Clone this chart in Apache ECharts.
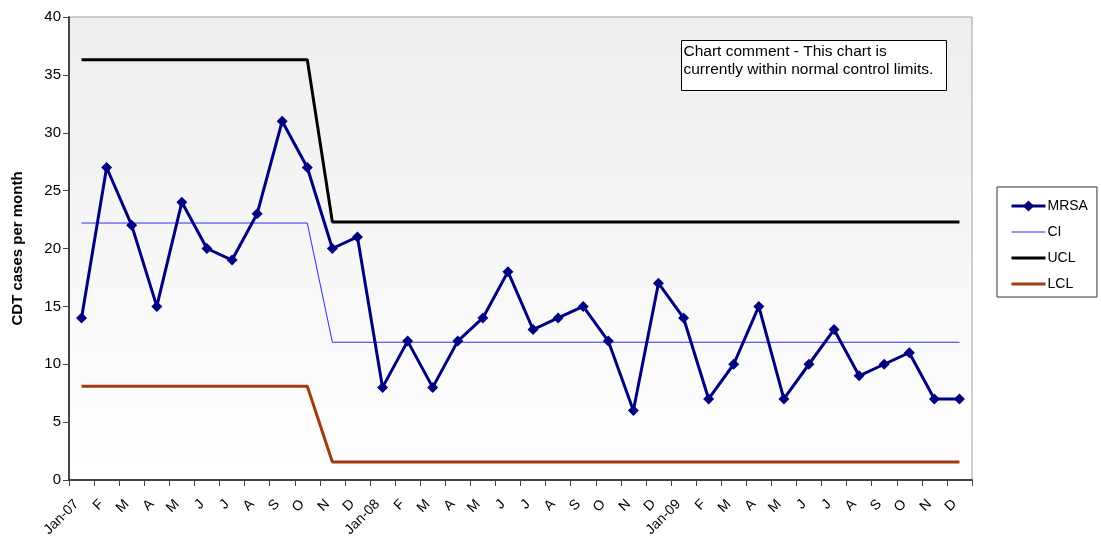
<!DOCTYPE html>
<html><head><meta charset="utf-8">
<script src="https://cdn.jsdelivr.net/npm/echarts@6/dist/echarts.min.js"></script>
<style>html,body{margin:0;padding:0;background:#fff}#c{width:1101px;height:537px}</style>
</head><body><div id="c"></div>
<script>
const categories = ['Jan-07','F','M','A','M','J','J','A','S','O','N','D',
  'Jan-08','F','M','A','M','J','J','A','S','O','N','D',
  'Jan-09','F','M','A','M','J','J','A','S','O','N','D'];
const mrsa = [14,27,22,15,24,20,19,23,31,27,20,21,
  8,12,8,12,14,18,13,14,15,12,6,17,
  14,7,10,15,7,10,13,9,10,11,7,7];
const ci  = [22.2,22.2,22.2,22.2,22.2,22.2,22.2,22.2,22.2,22.2,
  11.9,11.9,11.9,11.9,11.9,11.9,11.9,11.9,11.9,11.9,11.9,11.9,11.9,11.9,11.9,11.9,11.9,11.9,11.9,11.9,11.9,11.9,11.9,11.9,11.9,11.9];
const ucl = [36.3,36.3,36.3,36.3,36.3,36.3,36.3,36.3,36.3,36.3,
  22.3,22.3,22.3,22.3,22.3,22.3,22.3,22.3,22.3,22.3,22.3,22.3,22.3,22.3,22.3,22.3,22.3,22.3,22.3,22.3,22.3,22.3,22.3,22.3,22.3,22.3];
const lcl = [8.1,8.1,8.1,8.1,8.1,8.1,8.1,8.1,8.1,8.1,
  1.55,1.55,1.55,1.55,1.55,1.55,1.55,1.55,1.55,1.55,1.55,1.55,1.55,1.55,1.55,1.55,1.55,1.55,1.55,1.55,1.55,1.55,1.55,1.55,1.55,1.55];
const yTicks = [0,5,10,15,20,25,30,35,40];
const comment = 'Chart comment - This chart is\ncurrently within normal control limits.';

const font = 'Liberation Sans, Arial, sans-serif';
const clear = 'rgba(0,0,0,0)';
const chart = echarts.init(document.getElementById('c'), null, {renderer:'canvas'});
chart.setOption({
  animation: false,
  textStyle: {fontFamily: font},
  grid: {left: 69, top: 17, right: 129, bottom: 57, show: true,
    outerBoundsMode: 'none', containLabel: false,
    borderColor: '#a0a0a0', borderWidth: 1,
    backgroundColor: new echarts.graphic.LinearGradient(0,0,0,1,[
      {offset:0,color:'#eeeeee'},{offset:1,color:'#ffffff'}])},
  legend: {
    orient: 'vertical', left: 997, top: 187,
    padding: [12, 9, 6, 13], itemGap: 12,
    borderColor: '#333', borderWidth: 1, backgroundColor: '#fff',
    itemWidth: 34, itemHeight: 14,
    textStyle: {fontSize: 14, color: '#000', fontFamily: font, padding:[0,10,0,-3]},
    data: [
      {name: 'MRSA', lineStyle: {width: 3}},
      {name: 'CI', lineStyle: {width: 1}},
      {name: 'UCL', lineStyle: {width: 3}},
      {name: 'LCL', lineStyle: {width: 3}}
    ]
  },
  xAxis: {
    type: 'category', data: categories, boundaryGap: true,
    axisLine: {lineStyle: {color: '#444', width: 2}},
    axisTick: {show: true, interval: 0, length: 6, lineStyle: {color: '#444'}},
    axisLabel: {interval: 0, rotate: 45, fontSize: 14, color: '#000', fontFamily: font,
      margin: 17, padding: [0, 7, 0, 0]},
    splitLine: {show: false}
  },
  yAxis: {
    type: 'value', min: 0, max: 40, interval: 5,
    name: 'CDT cases per month', nameLocation: 'middle', nameGap: 44,
    nameTextStyle: {fontSize: 15, fontWeight: 'bold', color: '#000', fontFamily: font},
    axisLine: {show: true, lineStyle: {color: '#444', width: 2}},
    axisTick: {show: true, length: 6, lineStyle: {color: '#444'}},
    axisLabel: {fontSize: 15, color: '#000', fontFamily: font, margin: 8,
      formatter: v => yTicks.includes(v) ? String(v) : ''},
    splitLine: {show: false}
  },
  series: [
    {name: 'UCL', type: 'line', data: ucl, symbol: 'none', z: 2,
      lineStyle: {color: '#000', width: 3}, itemStyle: {color: clear}},
    {name: 'LCL', type: 'line', data: lcl, symbol: 'none', z: 2,
      lineStyle: {color: '#a33a0c', width: 3}, itemStyle: {color: clear}},
    {name: 'CI', type: 'line', data: ci, symbol: 'none', z: 3,
      lineStyle: {color: '#2b2bff', width: 1}, itemStyle: {color: clear}},
    {name: 'MRSA', type: 'line', data: mrsa, symbol: 'diamond', symbolSize: 11, z: 4,
      lineStyle: {color: '#000080', width: 3}, itemStyle: {color: '#000080'}}
  ],
  graphic: [
    {type: 'group', left: 681, top: 40, children: [
      {type: 'rect', shape: {x: 0, y: 0, width: 265, height: 50},
        style: {fill: '#fff', stroke: '#000', lineWidth: 1}},
      {type: 'text', x: 2, y: 2, style: {text: comment, font: '15.5px ' + font,
        fill: '#000', lineHeight: 18}}
    ]}
  ]
});
</script></body></html>
